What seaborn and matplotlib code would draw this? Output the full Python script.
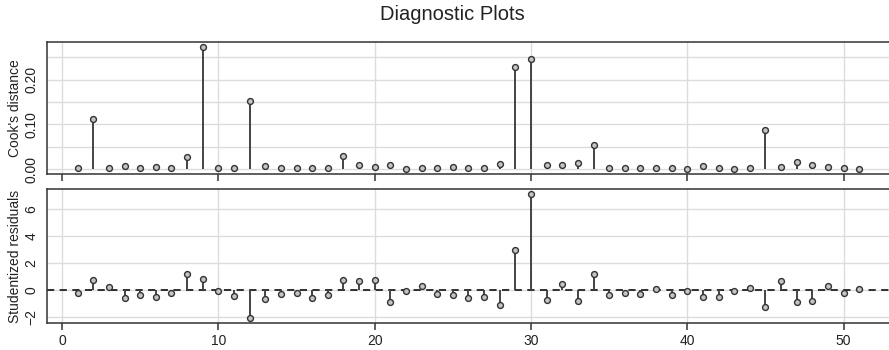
import numpy as np
import pandas as pd
import matplotlib
matplotlib.use("Agg")
import matplotlib.pyplot as plt
import seaborn as sns
from matplotlib.ticker import MultipleLocator, FuncFormatter

obs = list(range(1, 52))
cooks = [0.003, 0.112, 0.003, 0.007, 0.003, 0.005, 0.003, 0.026, 0.273, 0.003,
         0.003, 0.151, 0.007, 0.003, 0.003, 0.003, 0.003, 0.030, 0.010, 0.005,
         0.010, 0.000, 0.003, 0.003, 0.005, 0.003, 0.003, 0.012, 0.227, 0.245,
         0.010, 0.010, 0.013, 0.054, 0.003, 0.003, 0.003, 0.003, 0.003, 0.000,
         0.008, 0.003, 0.000, 0.003, 0.087, 0.005, 0.015, 0.009, 0.004, 0.003,
         0.001]
resid = [-0.25, 0.70, 0.20, -0.60, -0.42, -0.55, -0.25, 1.19, 0.82, -0.10,
         -0.47, -2.09, -0.67, -0.30, -0.22, -0.60, -0.42, 0.75, 0.62, 0.70,
         -0.92, -0.10, 0.25, -0.30, -0.42, -0.60, -0.50, -1.09, 2.98, 7.11,
         -0.75, 0.40, -0.84, 1.19, -0.35, -0.25, -0.30, 0.07, -0.42, -0.05,
         -0.50, -0.50, -0.12, 0.15, -1.24, 0.65, -0.92, -0.84, 0.30, -0.22,
         0.07]
x_ticks = [0, 10, 20, 30, 40, 50]
title = "Diagnostic Plots"
ylabel_top = "Cook's distance"
ylabel_bottom = "Studentized residuals"

df = pd.DataFrame({"obs": obs, "cooks": cooks, "resid": resid})

sns.set_theme(style="white")
plt.rcParams["font.family"] = ["Liberation Sans", "DejaVu Sans"]

fig = plt.figure(figsize=(8.89, 3.5), dpi=100)
W, H = 889, 350
def rect(l, t, r, b):
    return [l / W, 1 - b / H, (r - l) / W, (b - t) / H]

ax1 = fig.add_axes(rect(47, 42, 889, 174))
ax2 = fig.add_axes(rect(47, 189, 889, 323))

stem_col = "#444444"
frame_col = "#333333"
grid_col = "#dcdcdc"

for ax, col in ((ax1, "cooks"), (ax2, "resid")):
    ax.set_xlim(-0.96, 52.9)
    ax.xaxis.set_major_locator(plt.FixedLocator(x_ticks))
    ax.vlines(df["obs"], 0, df[col], color=stem_col, lw=1.4, zorder=2)
    sns.scatterplot(data=df, x="obs", y=col, ax=ax, s=18, color="#c4c4c4",
                    edgecolor="#333333", linewidth=1.0, zorder=3, legend=False)
    ax.grid(True, which="both", color=grid_col, lw=1.0, zorder=0)
    ax.set_axisbelow(True)
    for s in ("top", "left", "bottom"):
        ax.spines[s].set_visible(True)
        ax.spines[s].set_color(frame_col)
        ax.spines[s].set_linewidth(1.1)
    ax.spines["right"].set_visible(False)
    ax.tick_params(axis="x", which="major", bottom=True, length=5, width=1.1,
                   color=frame_col, direction="out", labelsize=10, pad=3,
                   labelcolor="#222222")
    ax.tick_params(axis="y", which="both", left=False, length=0, labelsize=10,
                   pad=6, labelcolor="#222222")
    ax.set_xlabel("")

# top panel
ax1.set_ylim(-0.0109, 0.2837)
ax1.yaxis.set_major_locator(MultipleLocator(0.10))
ax1.yaxis.set_minor_locator(MultipleLocator(0.05))
ax1.yaxis.set_major_formatter(FuncFormatter(lambda v, p: f"{v:.2f}"))
ax1.tick_params(axis="x", labelbottom=False)
ax1.set_ylabel(ylabel_top, fontsize=10, color="#222222", labelpad=2)
for lab in ax1.get_yticklabels():
    lab.set_rotation(90)
    lab.set_va("center")

# bottom panel
ax2.set_ylim(-2.46, 7.48)
ax2.yaxis.set_major_locator(plt.FixedLocator([-2, 0, 2, 4, 6]))
ax2.yaxis.set_major_formatter(FuncFormatter(lambda v, p: f"{v:g}".replace("-", "\u2212")))
ax2.axhline(0, color="#222222", lw=1.3, ls=(0, (4, 3)), zorder=1)
ax2.set_ylabel(ylabel_bottom, fontsize=10, color="#222222", labelpad=2)
for lab in ax2.get_yticklabels():
    lab.set_rotation(90)
    lab.set_va("center")

fig.text(452 / W, 1 - 15 / H, title, ha="center", va="center", fontsize=14.5,
         color="#222222")

fig.savefig("out.png", dpi=100)
